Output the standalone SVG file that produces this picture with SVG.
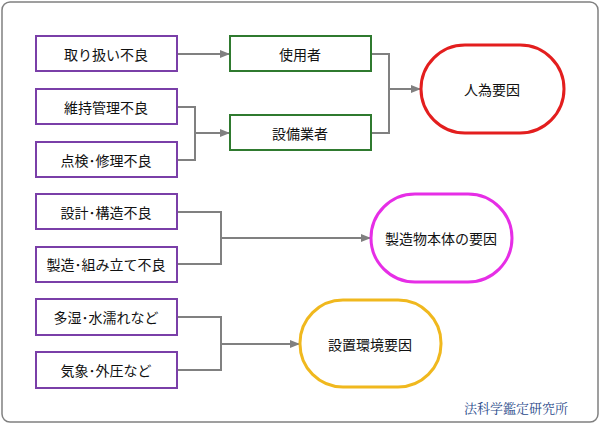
<svg xmlns="http://www.w3.org/2000/svg" width="600" height="424" viewBox="0 0 600 424">
<defs>
<marker id="ah" markerWidth="10" markerHeight="8" refX="10" refY="4" orient="auto" markerUnits="userSpaceOnUse"><path d="M0,0 L10,4 L0,8 z" fill="#808080"/></marker>
<style>
text{font-family:"Noto Sans CJK JP","Noto Sans CJK SC",sans-serif;font-size:14px;fill:#111;text-anchor:middle;dominant-baseline:central}
.p{fill:#fff;stroke:#7a3fa8;stroke-width:2}
.g{fill:#fff;stroke:#2f7a2f;stroke-width:2}
.c path{fill:none;stroke:#808080;stroke-width:2}
</style>
</defs>
<rect x="2" y="2" width="596" height="420" rx="8" fill="#fff" stroke="#808080" stroke-width="1.5"/>
<g class="c">
<path d="M177,54 H230" marker-end="url(#ah)"/>
<path d="M177,107 H195 V160 H177 M195,133 H230" marker-end="url(#ah)"/>
<path d="M371,54 H389 V133 H371 M389,89 H421" marker-end="url(#ah)"/>
<path d="M177,212 H221 V264 H177 M221,238 H371" marker-end="url(#ah)"/>
<path d="M177,317 H221 V370 H177 M221,344 H300" marker-end="url(#ah)"/>
</g>
<g id="n1"><rect class="p" x="36" y="36" width="141" height="35"/><text x="106" y="54">取り扱い不良</text></g>
<g id="n2"><rect class="p" x="36" y="89" width="141" height="35"/><text x="106" y="107">維持管理不良</text></g>
<g id="n3"><rect class="p" x="36" y="142" width="141" height="35"/><text x="106" y="160">点検･修理不良</text></g>
<g id="n4"><rect class="p" x="36" y="194" width="141" height="35"/><text x="106" y="212">設計･構造不良</text></g>
<g id="n5"><rect class="p" x="36" y="247" width="141" height="35"/><text x="106" y="264">製造･組み立て不良</text></g>
<g id="n6"><rect class="p" x="36" y="299" width="141" height="36"/><text x="106" y="317">多湿･水濡れなど</text></g>
<g id="n7"><rect class="p" x="36" y="352" width="141" height="36"/><text x="106" y="370">気象･外圧など</text></g>
<g id="g1"><rect class="g" x="230" y="36" width="141" height="35"/><text x="300" y="54">使用者</text></g>
<g id="g2"><rect class="g" x="230" y="115" width="141" height="35"/><text x="300" y="133">設備業者</text></g>
<g id="r1"><rect x="421" y="45" width="143" height="88" rx="44" fill="#fff" stroke="#e31e1e" stroke-width="3"/><text x="492" y="89">人為要因</text></g>
<g id="r2"><rect x="371" y="194" width="141" height="88" rx="44" fill="#fff" stroke="#e62ee6" stroke-width="3"/><text x="441" y="238">製造物本体の要因</text></g>
<g id="r3"><rect x="300" y="300" width="141" height="87" rx="43" fill="#fff" stroke="#f0b81e" stroke-width="3"/><text x="370" y="344">設置環境要因</text></g>
<text x="516" y="407" style="font-size:13px;fill:#2a4a8a;font-family:'Noto Serif CJK JP','Noto Sans CJK JP',sans-serif">法科学鑑定研究所</text>
</svg>
